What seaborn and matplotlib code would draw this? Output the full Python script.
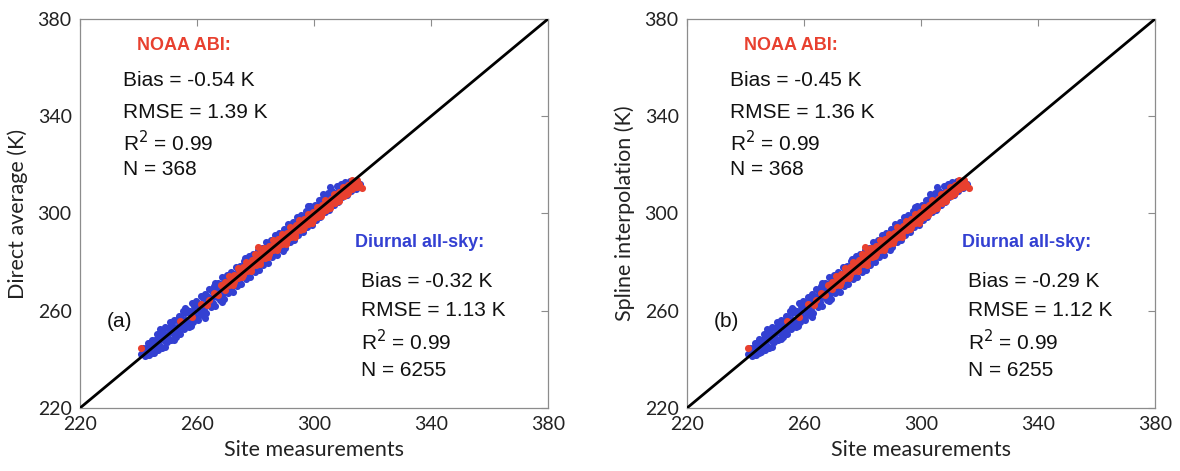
import matplotlib
matplotlib.use("Agg")
import matplotlib.pyplot as plt
import seaborn as sns

# ---------------- data ----------------
axis_ticks = [220, 260, 300, 340, 380]
one_to_one = [220, 380]

# Diurnal all-sky (blue) – site measurements shared by both panels
site_blue = [
    241.7, 243.2, 244.7, 246.2, 247.7, 249.2, 250.7, 252.2, 253.7, 255.2, 256.7, 258.2, 259.7, 261.2, 262.7, 264.2,
    265.7, 267.2, 268.7, 270.2, 271.7, 273.2, 274.7, 276.2, 277.7, 279.2, 280.7, 282.2, 283.7, 285.2, 286.7, 288.2,
    289.7, 291.2, 292.7, 294.2, 295.7, 297.2, 298.7, 300.2, 301.7, 303.2, 304.7, 306.2, 307.7, 309.2, 310.7, 312.2, 313.7,
    242.5, 244.0, 245.5, 247.0, 248.5, 250.0, 251.5, 253.0, 254.5, 256.0, 257.5, 259.0, 260.5, 262.0, 263.5, 265.0,
    266.5, 268.0, 269.5, 271.0, 272.5, 274.0, 275.5, 277.0, 278.5, 280.0, 281.5, 283.0, 284.5, 286.0, 287.5, 289.0,
    290.5, 292.0, 293.5, 295.0, 296.5, 298.0, 299.5, 301.0, 302.5, 304.0, 305.5, 307.0, 308.5, 310.0, 311.5, 313.0, 314.5,
    242.2, 243.7, 245.2, 246.7, 248.2, 249.7, 251.2, 252.7, 254.2, 255.7, 257.2, 258.7, 260.2, 261.7, 263.2, 264.7,
    266.2, 267.7, 269.2, 270.7, 272.2, 273.7, 275.2, 276.7, 278.2, 279.7, 281.2, 282.7, 284.2, 285.7, 287.2, 288.7,
    290.2, 291.7, 293.2, 294.7, 296.2, 297.7, 299.2, 300.7, 302.2, 303.7, 305.2, 306.7, 308.2, 309.7, 311.2, 312.7, 314.2,
    243.0, 244.5, 246.0, 247.5, 249.0, 250.5, 252.0, 253.5, 255.0, 256.5, 258.0, 259.5, 261.0, 262.5, 264.0, 265.5,
    267.0, 268.5, 270.0, 271.5, 273.0, 274.5, 276.0, 277.5, 279.0, 280.5, 282.0, 283.5, 285.0, 286.5, 288.0, 289.5,
    291.0, 292.5, 294.0, 295.5, 297.0, 298.5, 300.0, 301.5, 303.0, 304.5, 306.0, 307.5, 309.0, 310.5, 312.0, 313.5,
    242.5, 244.0, 245.5, 247.0, 248.5, 250.0, 251.5, 253.0, 254.5, 256.0, 257.5, 259.0, 260.5, 262.0, 263.5, 265.0,
    266.5, 268.0, 269.5, 271.0, 272.5, 274.0, 275.5, 277.0, 278.5, 280.0, 281.5, 283.0, 284.5, 286.0, 287.5, 289.0,
    290.5, 292.0, 293.5, 295.0, 296.5, 298.0, 299.5, 301.0, 302.5, 304.0, 305.5, 307.0, 308.5, 310.0, 311.5, 313.0,
    240.8, 252.0, 262.9, 305.5, 303.0, 315.6, 249.0, 258.0, 268.5, 247.3, 255.9, 266.0, 276.4, 289.3, 297.9,
]
direct_blue = [
    244.6, 246.9, 248.1, 250.5, 251.2, 253.2, 255.5, 256.0, 257.9, 259.8, 260.4, 263.2, 264.0, 265.9, 266.7, 269.1,
    270.1, 271.3, 273.9, 274.8, 275.9, 277.9, 278.5, 280.6, 282.5, 283.3, 285.0, 285.9, 288.3, 289.2, 291.0, 291.8,
    293.8, 295.6, 296.4, 298.4, 299.2, 301.2, 303.0, 303.6, 305.5, 306.4, 308.3, 309.3, 311.2, 312.1, 313.0, 313.2, 312.8,
    243.6, 244.8, 246.9, 247.6, 249.8, 250.4, 253.0, 253.5, 255.9, 256.3, 259.1, 259.4, 261.9, 262.2, 265.0, 265.6,
    267.8, 268.1, 271.0, 271.5, 273.8, 274.2, 277.0, 277.3, 279.7, 280.1, 282.8, 283.4, 285.6, 286.0, 288.5, 288.8,
    291.4, 291.7, 294.3, 294.6, 297.1, 297.5, 300.0, 300.3, 302.8, 303.1, 305.6, 305.9, 308.3, 308.8, 310.9, 311.5, 311.9,
    241.4, 241.6, 242.8, 243.9, 244.7, 247.0, 247.8, 249.4, 250.4, 252.6, 253.2, 255.5, 256.0, 258.3, 258.9, 261.4,
    261.8, 264.3, 264.9, 267.4, 267.8, 270.2, 270.9, 273.2, 273.7, 276.1, 276.8, 278.9, 279.8, 282.1, 282.9, 285.2,
    286.0, 288.2, 289.1, 291.3, 292.2, 294.4, 295.3, 297.4, 298.4, 300.5, 301.5, 303.5, 304.6, 306.6, 307.6, 309.2, 310.2,
    241.6, 242.7, 244.5, 245.6, 247.5, 248.4, 250.6, 251.5, 253.6, 254.4, 256.5, 257.3, 259.6, 260.4, 262.5, 263.3,
    265.6, 266.4, 268.5, 269.3, 271.5, 272.4, 274.6, 275.3, 277.5, 278.4, 280.6, 281.3, 283.5, 284.4, 286.5, 287.3,
    289.5, 290.4, 292.5, 293.3, 295.5, 296.4, 298.5, 299.3, 301.4, 302.3, 304.3, 305.2, 307.2, 308.1, 310.0, 310.9,
    244.7, 246.9, 248.0, 250.0, 251.1, 253.1, 254.1, 256.0, 257.1, 259.1, 260.1, 262.0, 263.2, 265.1, 266.1, 268.0,
    269.2, 271.1, 272.1, 274.0, 275.2, 277.1, 278.1, 280.0, 281.2, 283.0, 284.1, 285.9, 287.1, 288.9, 290.0, 291.7,
    292.9, 294.6, 295.7, 297.5, 298.6, 300.2, 301.5, 303.1, 304.2, 305.9, 307.0, 308.6, 309.7, 311.2, 312.4, 313.1,
    242.3, 248.1, 257.1, 310.8, 308.0, 312.0, 244.9, 253.6, 263.6, 252.4, 261.2, 271.4, 281.6, 284.6, 302.9,
]
spline_blue = [
    244.7, 246.9, 248.2, 250.5, 251.1, 253.2, 255.5, 256.2, 257.9, 259.8, 260.5, 263.2, 264.0, 265.7, 266.7, 269.1,
    270.2, 271.3, 273.9, 274.6, 275.9, 277.9, 278.6, 280.6, 282.5, 283.3, 284.8, 285.9, 288.3, 289.3, 291.0, 291.8,
    293.7, 295.6, 296.4, 298.5, 299.2, 301.2, 302.9, 303.6, 305.5, 306.5, 308.3, 309.3, 311.2, 312.0, 313.0, 313.2, 312.9,
    243.6, 244.9, 246.9, 247.6, 249.7, 250.4, 253.0, 253.6, 255.9, 256.3, 259.0, 259.4, 261.9, 262.3, 265.0, 265.6,
    267.7, 268.1, 271.0, 271.6, 273.8, 274.2, 276.9, 277.3, 279.7, 280.2, 282.8, 283.4, 285.5, 286.0, 288.5, 288.9,
    291.4, 291.7, 294.2, 294.6, 297.1, 297.6, 300.0, 300.3, 302.7, 303.1, 305.6, 306.0, 308.3, 308.8, 310.8, 311.5, 311.9,
    241.5, 241.6, 242.9, 243.9, 244.8, 247.0, 247.9, 249.4, 250.5, 252.6, 253.3, 255.5, 256.1, 258.3, 259.0, 261.4,
    261.9, 264.3, 265.0, 267.4, 267.9, 270.2, 271.0, 273.2, 273.8, 276.1, 276.9, 278.9, 279.9, 282.1, 283.0, 285.2,
    286.1, 288.2, 289.2, 291.3, 292.3, 294.4, 295.4, 297.4, 298.5, 300.5, 301.6, 303.5, 304.7, 306.6, 307.7, 309.2, 310.3,
    241.6, 242.8, 244.5, 245.7, 247.5, 248.5, 250.6, 251.6, 253.6, 254.5, 256.5, 257.4, 259.6, 260.5, 262.5, 263.4,
    265.6, 266.5, 268.5, 269.4, 271.5, 272.5, 274.6, 275.4, 277.5, 278.5, 280.6, 281.4, 283.5, 284.5, 286.5, 287.4,
    289.5, 290.5, 292.5, 293.4, 295.5, 296.5, 298.5, 299.4, 301.4, 302.4, 304.3, 305.3, 307.2, 308.2, 310.0, 311.0,
    244.7, 246.8, 248.0, 249.9, 251.1, 253.0, 254.1, 255.9, 257.1, 259.0, 260.1, 261.9, 263.2, 265.0, 266.1, 267.9,
    269.2, 271.0, 272.1, 273.9, 275.2, 277.0, 278.1, 279.9, 281.2, 282.9, 284.1, 285.8, 287.1, 288.8, 290.0, 291.6,
    292.9, 294.5, 295.7, 297.4, 298.6, 300.1, 301.5, 303.0, 304.2, 305.8, 307.0, 308.5, 309.7, 311.1, 312.4, 313.0,
    242.4, 248.3, 257.4, 310.9, 308.1, 312.1, 245.1, 253.8, 263.9, 252.6, 261.0, 271.6, 281.3, 284.8, 302.7,
]

# NOAA ABI (red) – site measurements shared by both panels
site_red = [
    268.2, 269.7, 271.2, 272.7, 274.2, 275.7, 277.2, 278.7, 280.2, 281.7, 283.2, 284.7, 286.2, 287.7, 289.2, 290.7,
    292.2, 293.7, 295.2, 296.7, 298.2, 299.7, 301.2, 302.7, 304.2, 305.7, 307.2, 308.7, 310.2, 311.7, 313.2, 314.7,
    268.9, 270.4, 271.9, 273.4, 274.9, 276.4, 277.9, 279.4, 280.9, 282.4, 283.9, 285.4, 286.9, 288.4, 289.9, 291.4,
    292.9, 294.4, 295.9, 297.4, 298.9, 300.4, 301.9, 303.4, 304.9, 306.4, 307.9, 309.4, 310.9, 312.4, 313.9, 315.4,
    269.6, 271.1, 272.6, 274.1, 275.6, 277.1, 278.6, 280.1, 281.6, 283.1, 284.6, 286.1, 287.6, 289.1, 290.6, 292.1,
    293.6, 295.1, 296.6, 298.1, 299.6, 301.1, 302.6, 304.1, 305.6, 307.1, 308.6, 310.1, 311.6, 313.1, 314.6, 316.3,
    270.9, 273.9, 276.9, 279.9, 282.9, 285.9, 288.9, 291.9, 294.9, 297.9, 300.9, 303.9, 306.9, 309.9, 312.9,
    272.4, 275.4, 278.4, 281.4, 284.4, 287.4, 290.4, 293.4, 296.4, 299.4, 302.4, 305.4, 308.4, 311.4, 314.4,
    240.9, 254.2, 258.2, 261.5, 264.0, 266.2, 280.9, 263.3, 265.8, 267.1,
]
direct_red = [
    270.6, 271.8, 273.7, 274.9, 276.6, 278.0, 279.6, 280.8, 282.3, 283.6, 285.2, 286.5, 288.1, 289.5, 290.6, 292.1,
    293.5, 295.1, 296.4, 297.8, 299.0, 300.6, 301.9, 303.4, 304.8, 306.1, 307.4, 308.9, 310.3, 311.6, 313.0, 313.8,
    269.6, 271.3, 272.6, 274.3, 275.6, 277.3, 278.6, 280.1, 281.4, 282.9, 284.3, 285.8, 287.2, 288.6, 289.9, 291.3,
    292.7, 294.1, 295.5, 296.9, 298.2, 299.6, 301.0, 302.5, 303.9, 305.2, 306.6, 308.0, 309.5, 310.9, 312.3, 312.2,
    268.7, 270.4, 271.7, 273.4, 274.7, 276.3, 277.7, 279.0, 280.5, 281.9, 283.3, 284.8, 286.1, 287.5, 288.9, 290.3,
    291.7, 293.1, 294.5, 295.8, 297.2, 298.6, 300.0, 301.4, 302.8, 304.2, 305.6, 307.1, 308.5, 309.9, 311.1, 310.3,
    274.2, 277.4, 280.1, 283.3, 285.8, 289.0, 291.7, 294.3, 297.2, 299.8, 302.7, 305.6, 308.2, 311.0, 313.8,
    270.5, 273.7, 276.4, 279.1, 282.3, 285.0, 287.6, 290.5, 293.7, 296.0, 299.1, 302.2, 305.1, 308.1, 311.0,
    244.6, 255.7, 257.5, 262.8, 264.3, 266.9, 286.3, 262.2, 267.4, 266.3,
]
spline_red = [
    270.7, 271.9, 273.6, 275.0, 276.5, 278.1, 279.5, 280.9, 282.3, 283.7, 285.1, 286.6, 288.0, 289.5, 290.7, 292.1,
    293.6, 295.0, 296.4, 297.9, 299.1, 300.5, 302.0, 303.4, 304.9, 306.1, 307.5, 308.9, 310.4, 311.7, 313.0, 313.9,
    269.7, 271.2, 272.7, 274.2, 275.7, 277.2, 278.7, 280.1, 281.5, 282.9, 284.4, 285.8, 287.3, 288.6, 290.0, 291.4,
    292.8, 294.2, 295.6, 297.0, 298.3, 299.7, 301.1, 302.6, 304.0, 305.3, 306.7, 308.1, 309.6, 311.0, 312.4, 312.3,
    268.8, 270.4, 271.8, 273.4, 274.8, 276.4, 277.8, 279.1, 280.6, 282.0, 283.4, 284.9, 286.2, 287.6, 289.0, 290.4,
    291.8, 293.2, 294.6, 295.9, 297.3, 298.7, 300.1, 301.5, 302.9, 304.3, 305.7, 307.2, 308.6, 310.0, 311.2, 310.4,
    274.1, 277.5, 280.0, 283.4, 285.7, 289.1, 291.6, 294.4, 297.1, 299.9, 302.6, 305.7, 308.1, 311.1, 313.7,
    270.6, 273.6, 276.5, 279.0, 282.4, 284.9, 287.7, 290.4, 293.8, 295.9, 299.2, 302.1, 305.2, 308.0, 311.1,
    244.7, 255.8, 257.6, 262.9, 264.4, 267.0, 286.2, 262.4, 267.5, 266.4,
]

panels = [
    dict(label="(a)", ylabel="Direct average (K)", yb=direct_blue, yr=direct_red,
         abi=["Bias = -0.54 K", "RMSE = 1.39 K", "R$^2$ = 0.99", "N = 368"],
         diu=["Bias = -0.32 K", "RMSE = 1.13 K", "R$^2$ = 0.99", "N = 6255"]),
    dict(label="(b)", ylabel="Spline interpolation (K)", yb=spline_blue, yr=spline_red,
         abi=["Bias = -0.45 K", "RMSE = 1.36 K", "R$^2$ = 0.99", "N = 368"],
         diu=["Bias = -0.29 K", "RMSE = 1.12 K", "R$^2$ = 0.99", "N = 6255"]),
]

# ---------------- styling ----------------
sns.set_style("white")
plt.rcParams["font.family"] = ["Liberation Sans", "DejaVu Sans"]

BLUE = "#3340d2"
RED = "#e8402f"
GREY = "#8c8c8c"
LABEL_FONT = ["Lato", "DejaVu Sans"]

fig = plt.figure(figsize=(11.8, 4.71), dpi=100)
lefts = [80 / 1180, 687 / 1180]

for left, p in zip(lefts, panels):
    ax = fig.add_axes([left, 63 / 471, 468 / 1180, 389 / 471])
    sns.scatterplot(x=site_blue, y=p["yb"], ax=ax, color=BLUE, s=26, linewidth=0, zorder=2)
    sns.scatterplot(x=site_red, y=p["yr"], ax=ax, color=RED, s=26, linewidth=0, zorder=3)
    sns.lineplot(x=one_to_one, y=one_to_one, ax=ax, color="black", linewidth=2.0, zorder=4)

    ax.set_xlim(220, 380)
    ax.set_ylim(220, 380)
    ax.set_xticks(axis_ticks)
    ax.set_yticks(axis_ticks)
    ax.tick_params(direction="in", top=True, right=True, length=5, width=0.8,
                   color=GREY, labelsize=14, labelcolor="#222222", pad=6)
    for lab in ax.get_xticklabels() + ax.get_yticklabels():
        lab.set_family(LABEL_FONT)
    for sp in ax.spines.values():
        sp.set_color(GREY)
        sp.set_linewidth(0.9)
    ax.set_xlabel("Site measurements", fontsize=15.5, family=LABEL_FONT, color="#222222", labelpad=5)
    ax.set_ylabel(p["ylabel"], fontsize=15.5, family=LABEL_FONT, color="#222222", labelpad=7)

    ax.text(239.5, 369.3, "NOAA ABI:", color=RED, fontsize=13, fontweight="bold", va="center")
    for yv, t in zip([354.5, 341.7, 329.2, 317.9], p["abi"]):
        ax.text(234.7, yv, t, fontsize=15, va="center", color="#111111")
    ax.text(314.0, 287.9, "Diurnal all-sky:", color=BLUE, fontsize=13, fontweight="bold", va="center")
    for yv, t in zip([272.2, 259.9, 247.4, 235.6], p["diu"]):
        ax.text(316.1, yv, t, fontsize=15, va="center", color="#111111")
    ax.text(229.2, 255.4, p["label"], fontsize=15, va="center", color="#111111")

fig.savefig("out.png", dpi=100)
